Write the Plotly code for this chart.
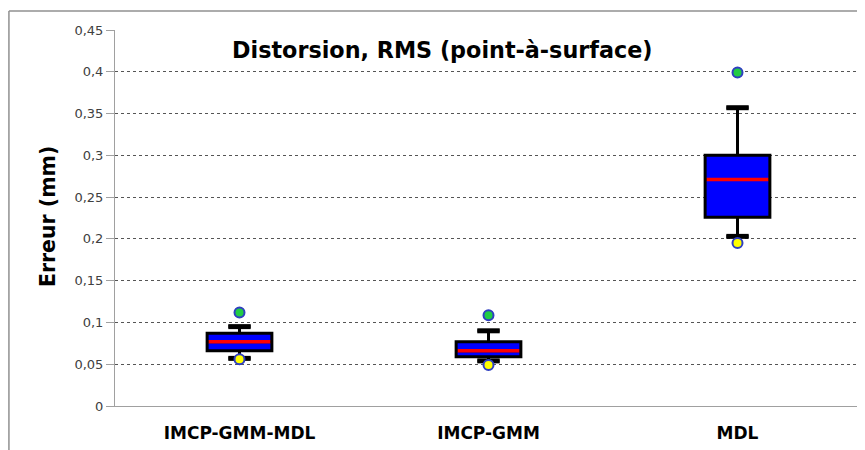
import plotly.graph_objects as go

categories = ["IMCP-GMM-MDL", "IMCP-GMM", "MDL"]
q1 = [0.066, 0.059, 0.226]
median = [0.077, 0.066, 0.271]
q3 = [0.087, 0.077, 0.300]
lower_whisker = [0.057, 0.054, 0.203]
upper_whisker = [0.095, 0.090, 0.357]
max_points = [0.112, 0.1085, 0.399]
min_points = [0.056, 0.049, 0.195]

y_tickvals = [0, 0.05, 0.1, 0.15, 0.2, 0.25, 0.3, 0.35, 0.4, 0.45]
y_ticktext = ["0", "0,05", "0,1", "0,15", "0,2", "0,25", "0,3", "0,35", "0,4", "0,45"]

FONT = "DejaVu Sans, sans-serif"

fig = go.Figure()

fig.add_trace(go.Box(
    x=categories, q1=q1, median=median, q3=q3,
    lowerfence=lower_whisker, upperfence=upper_whisker,
    fillcolor="#0000FF", line=dict(color="#000000", width=3),
    width=0.26, whiskerwidth=0.34, boxpoints=False, showlegend=False,
    hoverinfo="skip",
))

# thicker whisker caps
fig.add_trace(go.Scatter(
    x=categories + categories, y=upper_whisker + lower_whisker, mode="markers",
    marker=dict(symbol="line-ew", size=16, line=dict(color="#000000", width=5)),
    showlegend=False, hoverinfo="skip",
))

# red median line
fig.add_trace(go.Scatter(
    x=categories, y=median, mode="markers",
    marker=dict(symbol="line-ew", size=44, line=dict(color="#FF0000", width=3.5)),
    showlegend=False, hoverinfo="skip",
))

# max points (green)
fig.add_trace(go.Scatter(
    x=categories, y=max_points, mode="markers",
    marker=dict(symbol="circle", size=10, color="#22CC44", line=dict(color="#2F3FC0", width=2)),
    showlegend=False,
))

# min points (yellow)
fig.add_trace(go.Scatter(
    x=categories, y=min_points, mode="markers",
    marker=dict(symbol="circle", size=10, color="#FFFF00", line=dict(color="#2F3FC0", width=2)),
    showlegend=False,
))

fig.update_layout(
    width=857, height=442,
    margin=dict(l=107, r=3, t=22, b=44, autoexpand=False),
    paper_bgcolor="#FFFFFF", plot_bgcolor="#FFFFFF",
    font=dict(family=FONT, color="#333333"),
    xaxis=dict(
        type="category", range=[-0.5, 2.5],
        showgrid=False, showline=True, linecolor="#A0A0A0", linewidth=1,
        ticks="outside", ticklen=12, tickcolor="rgba(0,0,0,0)",
        tickfont=dict(size=17, color="#000000", family=FONT, weight="bold"),
        zeroline=False,
    ),
    yaxis=dict(
        range=[0, 0.45], tickvals=y_tickvals, ticktext=y_ticktext,
        showgrid=True, gridcolor="#555555", griddash="dot", gridwidth=1,
        showline=True, linecolor="#A0A0A0", linewidth=1,
        ticks="outside", ticklen=8, tickcolor="#A0A0A0",
        tickfont=dict(size=13, color="#404040", family=FONT),
        zeroline=False,
    ),
    annotations=[
        dict(text="<b>Distorsion, RMS (point-à-surface)</b>", x=0.4384, y=0.947,
             xref="paper", yref="paper", xanchor="center", yanchor="middle", showarrow=False,
             font=dict(size=22.3, color="#000000", family=FONT)),
        dict(text="<b>Erreur (mm)</b>", x=-0.0897, y=0.505, xref="paper", yref="paper",
             xanchor="center", yanchor="middle",
             showarrow=False, textangle=-90,
             font=dict(size=20.5, color="#000000", family=FONT)),
    ],
    shapes=[
        dict(type="line", xref="paper", yref="paper", x0=-0.142, x1=1.01, y0=1.0505, y1=1.0505,
             line=dict(color="#909090", width=1.5)),
        dict(type="line", xref="paper", yref="paper", x0=-0.142, x1=-0.142, y0=-0.12, y1=1.0505,
             line=dict(color="#909090", width=1.5)),
    ],
)

fig.write_html("out.html")
